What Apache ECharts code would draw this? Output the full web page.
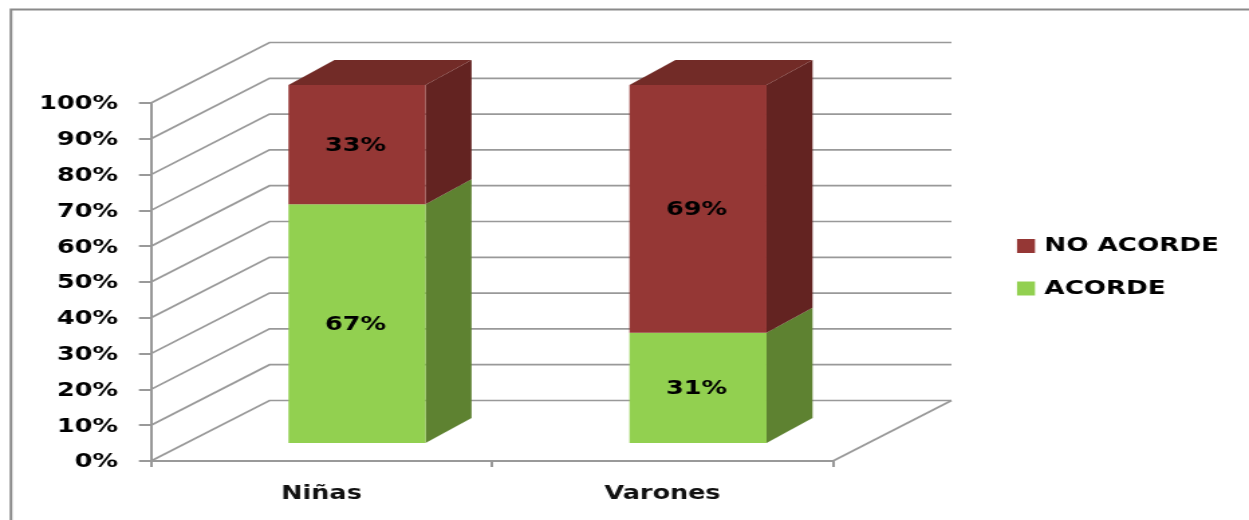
<!DOCTYPE html>
<html>
<head>
<meta charset="utf-8">
<style>
html,body{margin:0;padding:0;background:#fff;overflow:hidden;width:1249px;height:520px}
#c{width:932px;height:520px;transform:scaleX(1.3401);transform-origin:0 0}
</style>
<script src="https://cdn.jsdelivr.net/npm/echarts@6/dist/echarts.min.js"></script>
</head>
<body>
<div id="c"></div>
<script>
var categories = ['Niñas', 'Varones'];
var acorde = [66.7, 30.8];
var noAcorde = [33.3, 69.2];
var yTicks = [0, 10, 20, 30, 40, 50, 60, 70, 80, 90, 100];

var S = 1.3401, FONT = '"DejaVu Sans", sans-serif';
var WALL = [118.5 / S, -60.5], FRONT = [35.5 / S, -18], DEPTH = [46 / S, -25], BAR_RATIO = 0.402;
var GRID = '#999999';

var chart = echarts.init(document.getElementById('c'));

function poly(pts, fill) {
  return { type: 'polygon', shape: { points: pts }, style: { fill: fill, stroke: null } };
}
function stackItem(values, baseValues, front, side, top) {
  return function (params, api) {
    var i = api.value(0), base = baseValues ? baseValues[i] : 0, v = values[i];
    var w = api.size([1, 0])[0] * BAR_RATIO;
    var c0 = api.coord([i, base]), c1 = api.coord([i, base + v]);
    var x0 = c0[0] + FRONT[0] - w / 2, x1 = x0 + w;
    var y0 = c0[1] + FRONT[1], y1 = c1[1] + FRONT[1];
    var dx = DEPTH[0], dy = DEPTH[1];
    var kids = [
      poly([[x1, y0], [x1 + dx, y0 + dy], [x1 + dx, y1 + dy], [x1, y1]], side),
      poly([[x0, y0], [x1, y0], [x1, y1], [x0, y1]], front)
    ];
    if (top) kids.push(poly([[x0, y1], [x1, y1], [x1 + dx, y1 + dy], [x0 + dx, y1 + dy]], top));
    kids.push({
      type: 'text',
      style: { x: (x0 + x1) / 2 - 1.5 / S, y: (y0 + y1) / 2 + 1, text: Math.round(v) + '%', fill: '#000',
        font: 'bold 19px ' + FONT, align: 'center', verticalAlign: 'middle' }
    });
    return { type: 'group', children: kids };
  };
}
function wallItem(params, api) {
  var c = api.coord([0, api.value(1)]), sys = params.coordSys;
  var x0 = sys.x, x1 = sys.x + sys.width, y = c[1];
  var style = { stroke: GRID, lineWidth: 1.7, fill: null };
  var kids = [{ type: 'polyline', shape: { points: [[x0, y], [x0 + WALL[0], y + WALL[1]], [x1 + WALL[0], y + WALL[1]]] }, style: style }];
  if (api.value(1) === yTicks[0]) {
    kids.push({ type: 'line', shape: { x1: x1, y1: y, x2: x1 + WALL[0], y2: y + WALL[1] }, style: style });
  }
  return { type: 'group', children: kids };
}
var idx = categories.map(function (c, i) { return i; });

chart.setOption({
  animation: false,
  backgroundColor: '#fff',
  graphic: [{
    type: 'polyline', silent: true,
    shape: { points: [[8.2, 520], [8.2, 9.5], [932, 9.5]] },
    style: { stroke: '#8a8a8a', lineWidth: 2, fill: null }
  }],
  legend: {
    orient: 'vertical', left: (1017 - 6.7) / S, top: 231,
    data: ['NO ACORDE', 'ACORDE'], icon: 'rect',
    itemWidth: 18 / S, itemHeight: 14, itemGap: 22.5,
    textStyle: { color: '#000', fontFamily: FONT, fontWeight: 'bold', fontSize: 19.5, padding: [0, 0, 0, 2] }
  },
  grid: { left: 151 / S, right: (1249 - 833) / S, top: 103, bottom: 59, containLabel: false },
  xAxis: {
    type: 'category', data: categories,
    axisLine: { lineStyle: { color: GRID, width: 2 } },
    axisTick: { show: true, length: 6, lineStyle: { color: GRID, width: 2 } },
    axisLabel: { color: '#111', fontFamily: FONT, fontWeight: 'bold', fontSize: 19, margin: 24 }
  },
  yAxis: {
    type: 'value', min: 0, max: 100, interval: 10,
    axisLine: { show: true, lineStyle: { color: GRID, width: 2 } },
    axisTick: { show: true, length: 9, lineStyle: { color: GRID, width: 2 } },
    axisLabel: { color: '#000', fontFamily: FONT, fontWeight: 'bold', fontSize: 19, margin: 24.7, verticalAlign: 'top', lineHeight: 3, formatter: '{value}%' },
    splitLine: { show: false }
  },
  series: [
    { type: 'custom', name: 'wall', silent: true, z: 1, clip: false, renderItem: wallItem,
      data: yTicks.map(function (v) { return [0, v]; }) },
    { type: 'custom', name: 'ACORDE', z: 2, clip: false, itemStyle: { color: '#92D050' },
      renderItem: stackItem(acorde, null, '#92D050', '#5E8231'),
      data: idx.map(function (i) { return [i, acorde[i]]; }) },
    { type: 'custom', name: 'NO ACORDE', z: 3, clip: false, itemStyle: { color: '#953735' },
      renderItem: stackItem(noAcorde, acorde, '#953735', '#632321', '#722B27'),
      data: idx.map(function (i) { return [i, noAcorde[i]]; }) }
  ]
});
</script>
</body>
</html>
